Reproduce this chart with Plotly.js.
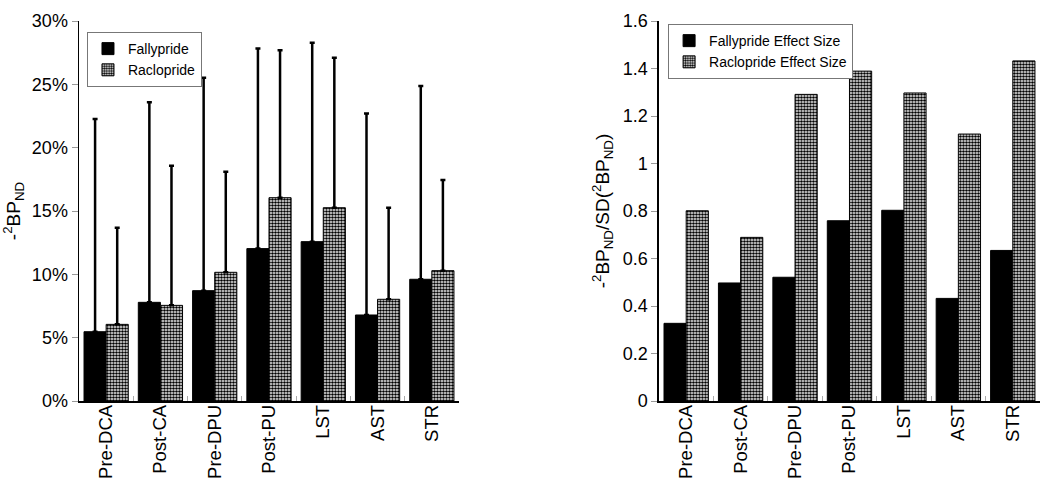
<!DOCTYPE html>
<html>
<head>
<meta charset="utf-8">
<script src="https://cdn.plot.ly/plotly-3.0.1.min.js"></script>
<style>html,body{margin:0;padding:0;background:#fff;}#chart{width:1050px;height:484px;}</style>
</head>
<body>
<div id="chart"></div>
<script>
// Categories
const categories = ["Pre-DCA", "Post-CA", "Pre-DPU", "Post-PU", "LST", "AST", "STR"];
// Left panel: mean change in BPND (%) and SD (%)
const fallyprideMean = [5.47, 7.79, 8.71, 12.03, 12.58, 6.79, 9.61];
const fallyprideSD   = [16.8, 15.8, 16.8, 15.8, 15.7, 15.9, 15.26];
const raclaprideMean = [6.05, 7.55, 10.16, 16.05, 15.26, 8.03, 10.29];
const raclaprideSD   = [7.63, 11.03, 7.94, 11.65, 11.84, 7.23, 7.16];
// Right panel: effect sizes
const fallyprideEffect = [0.327, 0.497, 0.521, 0.759, 0.803, 0.432, 0.634];
const raclaprideEffect = [0.801, 0.689, 1.291, 1.389, 1.297, 1.124, 1.432];
// Tick labels
const leftTicks = [0, 5, 10, 15, 20, 25, 30];
const leftTickLabels = ["0%", "5%", "10%", "15%", "20%", "25%", "30%"];
const rightTicks = [0, 0.2, 0.4, 0.6, 0.8, 1, 1.2, 1.4, 1.6];
const rightTickLabels = ["0", "0.2", "0.4", "0.6", "0.8", "1", "1.2", "1.4", "1.6"];

const FONT = "Liberation Sans, Arial, sans-serif";
const pattern = {shape: ".", fgcolor: "#000", bgcolor: "#fff", size: 3, solidity: 0.6, fillmode: "replace"};

const traces = [
  {type: "bar", name: "Fallypride", x: categories, y: fallyprideMean, xaxis: "x", yaxis: "y", legend: "legend",
   marker: {color: "#000", line: {color: "#000", width: 1}},
   error_y: {type: "data", symmetric: false, array: fallyprideSD, arrayminus: categories.map(() => 0), color: "#000", thickness: 2.5, width: 2.5}},
  {type: "bar", name: "Raclopride", x: categories, y: raclaprideMean, xaxis: "x", yaxis: "y", legend: "legend",
   marker: {color: "#fff", pattern: pattern, line: {color: "#000", width: 1}},
   error_y: {type: "data", symmetric: false, array: raclaprideSD, arrayminus: categories.map(() => 0), color: "#000", thickness: 2.5, width: 2.5}},
  {type: "bar", name: "Fallypride Effect Size", x: categories, y: fallyprideEffect, xaxis: "x2", yaxis: "y2", legend: "legend2",
   marker: {color: "#000", line: {color: "#000", width: 1}}},
  {type: "bar", name: "Raclopride Effect Size", x: categories, y: raclaprideEffect, xaxis: "x2", yaxis: "y2", legend: "legend2",
   marker: {color: "#fff", pattern: pattern, line: {color: "#000", width: 1}}}
];

const xCommon = {
  type: "category", showline: true, linecolor: "#000", linewidth: 1.5, mirror: false,
  ticks: "inside", tickson: "boundaries", ticklen: 5, tickcolor: "#aaa",
  tickangle: -90, ticklabelstandoff: -5, tickfont: {family: FONT, size: 18.5, color: "#000"}, showgrid: false, zeroline: false
};
const yCommon = {
  showline: true, linecolor: "#000", linewidth: 1.5, ticks: "outside", ticklen: 6, tickcolor: "#999",
  tickfont: {family: FONT, size: 18, color: "#000"}, showgrid: false, zeroline: false
};

const layout = {
  width: 1050, height: 484,
  margin: {l: 79, r: 10, t: 21, b: 83},
  paper_bgcolor: "#fff", plot_bgcolor: "#fff",
  font: {family: FONT, color: "#000"},
  barmode: "group", bargap: 0.185, bargroupgap: 0,
  xaxis: Object.assign({}, xCommon, {domain: [0, 0.3954], anchor: "y"}),
  xaxis2: Object.assign({}, xCommon, {domain: [0.6035, 1], anchor: "y2"}),
  yaxis: Object.assign({}, yCommon, {anchor: "x", range: [0, 30], tickmode: "array", tickvals: leftTicks, ticktext: leftTickLabels,
    title: {text: "-<sup>2</sup>BP<sub>ND</sub>", font: {family: FONT, size: 19}, standoff: 8}}),
  yaxis2: Object.assign({}, yCommon, {anchor: "x2", range: [0, 1.6], tickmode: "array", tickvals: rightTicks, ticktext: rightTickLabels,
    title: {text: "-<sup>2</sup>BP<sub>ND</sub>/SD(<sup>2</sup>BP<sub>ND</sub>)", font: {family: FONT, size: 19}, standoff: 8}}),
  showlegend: true,
  legend: {x: 0.0083, y: 0.971, xanchor: "left", yanchor: "top", bordercolor: "#777", borderwidth: 1,
    bgcolor: "#fff", font: {family: FONT, size: 14, color: "#000"}, traceorder: "normal", itemwidth: 30},
  legend2: {x: 0.613, y: 0.992, xanchor: "left", yanchor: "top", bordercolor: "#777", borderwidth: 1,
    bgcolor: "#fff", font: {family: FONT, size: 14, color: "#000"}, traceorder: "normal", itemwidth: 30}
};

Plotly.newPlot("chart", traces, layout, {displayModeBar: false, staticPlot: true});
</script>
</body>
</html>
